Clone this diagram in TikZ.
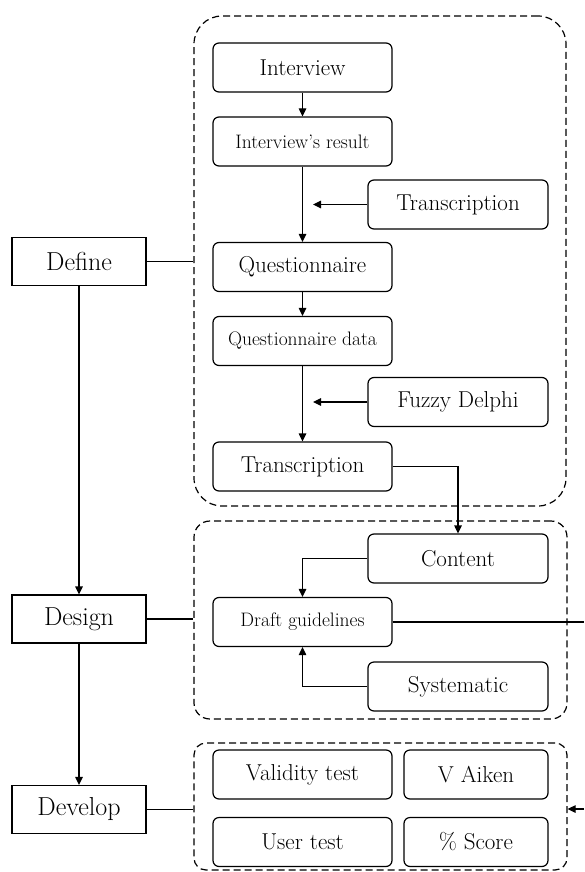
\documentclass[tikz,border=0pt]{standalone}
\usetikzlibrary{positioning,arrows.meta}

\tikzset{
  block/.style={draw,rounded corners=6pt,minimum width=179pt,minimum height=49pt,
    line width=1.2pt,inner sep=0pt,font=\fontsize{23}{27}\selectfont},
  smallblock/.style={block,font=\fontsize{19.5}{23}\selectfont},
  stage/.style={draw,rectangle,minimum width=134pt,minimum height=48pt,
    line width=1.2pt,inner sep=0pt,font=\fontsize{26}{30}\selectfont},
  group/.style={draw,dash pattern=on 7pt off 4pt,line width=1.2pt,inner sep=0pt}
}

\begin{document}
\begin{tikzpicture}[x=1pt,y=-1pt,node distance=74pt,on grid,>={Triangle[length=8pt,width=7.5pt]},line width=1.2pt]
   \useasboundingbox (0,0) rectangle (584,872);
   % dashed groups
   \node[group,rounded corners=28pt,minimum width=372pt,minimum height=490pt] (grp1) at (380,261) {};
   \node[group,rounded corners=16pt,minimum width=373pt,minimum height=198pt] (grp2) at (380.5,620) {};
   \node[group,rounded corners=12pt,minimum width=373pt,minimum height=127pt] (grp3) at (380.5,806.5) {};
   % main column
   \node[block] (interview) at (302.5,67.5) {Interview};
   \node[smallblock] (result) [below=of interview] {Interview's result};
   \node[block] (quest) [below=125.5pt of result] {Questionnaire};
   \node[smallblock] (qdata) [below=of quest] {Questionnaire data};
   \node[block] (transc) [below=125.5pt of qdata] {Transcription};
   \node[smallblock] (draft) at (302.5,622) {Draft guidelines};
   \node[block] (validity) at (302.5,774.5) {Validity test};
   \node[block] (usertest) [below=67.5pt of validity] {User test};
   % side column
   \node[block,minimum width=180pt] (transside) at (458,204.5) {Transcription};
   \node[block,minimum width=180pt] (fuzzy) at (458,402) {Fuzzy Delphi};
   \node[block,minimum width=180pt] (content) at (458,558.5) {Content};
   \node[block,minimum width=180pt] (systematic) [below=128pt of content] {Systematic};
   \node[block,minimum width=144pt] (vaiken) at (476,774.5) {V Aiken};
   \node[block,minimum width=144pt] (score) [below=67.5pt of vaiken] {\%~Score};
   % stages
   \node[stage] (define) at (79,261.5) {Define};
   \node[stage] (design) at (79,619) {Design};
   \node[stage] (develop) at (79,809.5) {Develop};
   % free ends
   \coordinate (in1) at (313,204.5);
   \coordinate (in2) at (313,402);
   \coordinate (outR) at (584,622);
   \coordinate (inR) at (584,809);

   \path[->]
    (interview) edge (result)
    (result) edge (quest)
    (quest) edge (qdata)
    (qdata) edge (transc)
    (transside) edge (in1)
    (fuzzy) edge (in2)
    (define) edge (design)
    (design) edge (develop);
   \draw[->] (transc.east) -| (content.north);
   \draw[->] (content.west) -| (draft.north);
   \draw[->] (systematic.west) -| (draft.south);
   \draw[line width=1.8pt] (draft.east) -- (outR);
   \draw[->] (inR) -- (inR -| grp3.east);
   \draw (define.east) -- (define.east -| grp1.west);
   \draw (design.east) -- (design.east -| grp2.west);
   \draw (develop.east) -- (develop.east -| grp3.west);
\end{tikzpicture}
\end{document}
